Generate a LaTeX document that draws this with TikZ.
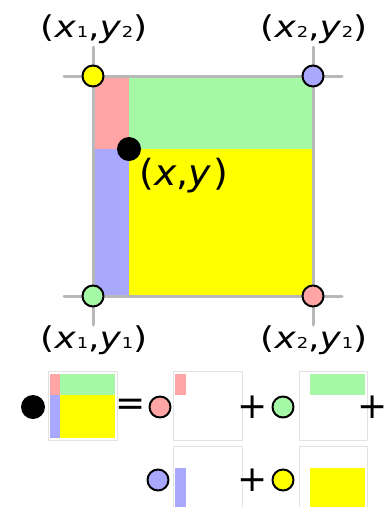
\documentclass[tikz,border=0pt]{standalone}
\usepackage{fontspec}
\setmainfont{DejaVu Sans}
\definecolor{cellred}{HTML}{FFA5A5}
\definecolor{cellgreen}{HTML}{A5F8A5}
\definecolor{cellblue}{HTML}{A8A8FF}
\definecolor{cellyellow}{HTML}{FFFF00}
\definecolor{gridgray}{HTML}{B8B8B8}
\definecolor{boxgray}{HTML}{E2E2E2}
\newcommand{\sub}[1]{\kern-2pt{\fontsize{15}{15}\selectfont\addfontfeature{LetterSpace=12}#1}}
\newcommand{\ptlbl}[2]{\scalebox{1.2}[1]{\addfontfeature{LetterSpace=8}(\textit{x}\sub{#1},\textit{y}\sub{#2})}}

\begin{document}
\begin{tikzpicture}[x=1pt,y=-1pt,line cap=round,line join=round,
  corner/.style={draw=black,line width=2pt,circle,inner sep=0pt,minimum size=21pt},
  lbl/.style={font=\fontsize{30}{36}\selectfont,inner sep=0pt},
  sign/.style={font=\fontsize{36}{40}\selectfont,inner sep=0pt}]
  \clip (0,0) rectangle (388,507);
  % the four cells
  \fill[cellred] (93,76) rectangle (129,149);
  \fill[cellgreen] (129,76) rectangle (313,149);
  \fill[cellblue] (93,149) rectangle (129,296);
  \fill[cellyellow] (129,149) rectangle (313,296);
  % grid lines through the corners
  \draw[line width=3pt,color=gridgray] (64,76)--(342,76);
  \draw[line width=3pt,color=gridgray] (64,296)--(342,296);
  \draw[line width=3pt,color=gridgray] (93,47)--(93,325);
  \draw[line width=3pt,color=gridgray] (313,47)--(313,325);
  % corners
  \node[corner,fill=cellyellow] (q12) at (93,76) {};
  \node[corner,fill=cellblue] (q22) at (313,76) {};
  \node[corner,fill=cellgreen] (q11) at (93,296) {};
  \node[corner,fill=cellred] (q21) at (313,296) {};
  \node[lbl] at (94,29) {\ptlbl{1}{2}};
  \node[lbl] at (314,29) {\ptlbl{2}{2}};
  \node[lbl] at (94,340) {\ptlbl{1}{1}};
  \node[lbl] at (314,340) {\ptlbl{2}{1}};
  % the point
  \fill (129,149) circle (12);
  \node[font=\fontsize{36}{40}\selectfont,inner sep=0pt] at (184,176)
    {\scalebox{1.05}[1]{\addfontfeature{LetterSpace=6}(\textit{x},\textit{y})}};
  % sum
  \fill (33,407) circle (12);
  \draw[line width=1pt,color=boxgray] (48,371) rectangle (117,440);
  \fill[cellred] (50,374) rectangle (60,395);
  \fill[cellgreen] (60,374) rectangle (115,395);
  \fill[cellblue] (50,395) rectangle (60,438);
  \fill[cellyellow] (60,395) rectangle (115,438);
  \node[sign] at (131,407) {=};
  \node[corner,fill=cellred] (s21) at (160,407) {};
  \draw[line width=1pt,color=boxgray] (173,371) rectangle (242,440);
  \fill[cellred] (175,374) rectangle (186,395);
  \node[sign] at (253,407) {+};
  \node[corner,fill=cellgreen] (s11) at (283,407) {};
  \draw[line width=1pt,color=boxgray] (299,371) rectangle (367,440);
  \fill[cellgreen] (310,374) rectangle (365,395);
  \node[sign] at (373,407) {+};
  \node[corner,fill=cellblue] (s22) at (158,480) {};
  \draw[line width=1pt,color=boxgray] (173,446) rectangle (242,515);
  \fill[cellblue] (175,468) rectangle (186,513);
  \node[sign] at (253,480) {+};
  \node[corner,fill=cellyellow] (s12) at (283,480) {};
  \draw[line width=1pt,color=boxgray] (299,446) rectangle (367,515);
  \fill[cellyellow] (310,468) rectangle (365,513);
\end{tikzpicture}
\end{document}
